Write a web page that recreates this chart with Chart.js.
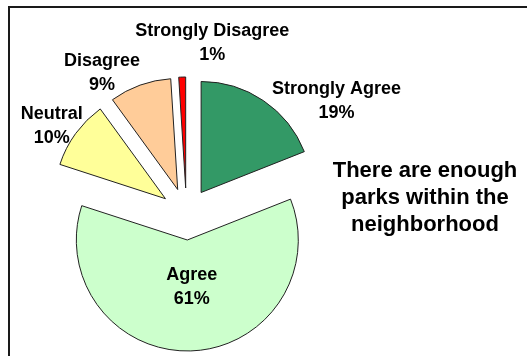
<!DOCTYPE html>
<html>
<head>
<meta charset="utf-8">
<script src="https://cdn.jsdelivr.net/npm/chart.js@4.4.1/dist/chart.umd.min.js"></script>
<style>
    html, body { margin: 0; padding: 0; background: #fff; }
    #wrap { position: relative; width: 527px; height: 356px; }
</style>
</head>
<body>
<div id="wrap"><canvas id="myChart" width="527" height="356"></canvas></div>
<script>
let labels = ['Strongly Agree', 'Agree', 'Neutral', 'Disagree', 'Strongly Disagree'];
let data = [19, 61, 10, 9, 1];
let colors = ['#339966', '#CCFFCC', '#FFFF99', '#FFCC99', '#FF0000'];
let titleLines = ['There are enough', 'parks within the', 'neighborhood'];

// every slice is pulled out of the centre by this many pixels
let explode = 26;
let pieRadius = 111;

// where each label's first line sits, relative to the slice's outer edge point
let labelNudge = [[73, -7], [1, -71], [-24, -14], [-38, -19], [30, -41]];

// chart.js offset also trims thin slices, so move the arcs out ourselves
let explodeSlices = {
    id: 'explodeSlices',
    afterDatasetsUpdate: function (chart) {
        let meta = chart.getDatasetMeta(0);
        meta.data.forEach(function (arc) {
            let mid = (arc.startAngle + arc.endAngle) / 2;
            arc.x += Math.cos(mid) * explode;
            arc.y += Math.sin(mid) * explode;
        });
    }
};

let pieText = {
    id: 'pieText',
    beforeDraw: function (chart) {
        let ctx = chart.ctx;
        ctx.save();
        ctx.fillStyle = '#fff';
        ctx.fillRect(0, 0, chart.width, chart.height);
        ctx.strokeStyle = '#1a1a1a';
        ctx.lineWidth = 2;
        ctx.strokeRect(9, 7, 700, 700);
        ctx.restore();
    },
    afterDatasetsDraw: function (chart) {
        let ctx = chart.ctx;
        let meta = chart.getDatasetMeta(0);
        let total = data.reduce(function (a, b) { return a + b; }, 0);
        ctx.save();
        ctx.fillStyle = '#000';
        ctx.textAlign = 'center';
        ctx.textBaseline = 'alphabetic';
        ctx.font = 'bold 18px "Liberation Sans", Arial, sans-serif';
        meta.data.forEach(function (arc, i) {
            let mid = (arc.startAngle + arc.endAngle) / 2;
            let ex = arc.x + Math.cos(mid) * pieRadius;
            let ey = arc.y + Math.sin(mid) * pieRadius;
            let x = ex + labelNudge[i][0];
            let y = ey + labelNudge[i][1];
            let pct = Math.round(data[i] / total * 100) + '%';
            ctx.fillText(labels[i], x, y);
            ctx.fillText(pct, x, y + 24);
        });
        ctx.font = 'bold 22px "Liberation Sans", Arial, sans-serif';
        titleLines.forEach(function (line, i) {
            ctx.fillText(line, 425, 177 + i * 27);
        });
        ctx.restore();
    }
};

let myChart = document.getElementById('myChart').getContext('2d');

let chart = new Chart(myChart, {
    type: 'pie',
    data: {
        labels: labels,
        datasets: [{
            data: data,
            backgroundColor: colors,
            borderColor: '#222',
            borderWidth: 1,
            radius: pieRadius
        }]
    },
    options: {
        responsive: false,
        animation: false,
        events: [],
        layout: {
            padding: { left: 40, right: 194, top: 76, bottom: 4 }
        },
        plugins: {
            legend: { display: false },
            tooltip: { enabled: false },
            title: { display: false }
        }
    },
    plugins: [explodeSlices, pieText]
});
</script>
</body>
</html>
